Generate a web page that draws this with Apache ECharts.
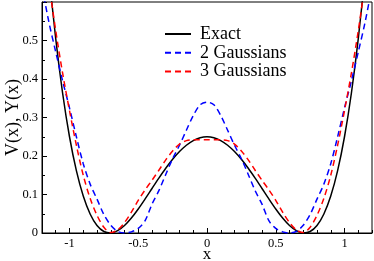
<!DOCTYPE html>
<html>
<head>
<meta charset="utf-8">
<script src="https://cdn.jsdelivr.net/npm/echarts@6/dist/echarts.min.js"></script>
<style>html,body{margin:0;padding:0;background:#fff}#c{width:374px;height:261px}</style>
</head>
<body>
<div id="c"></div>
<script>
const xValues = [-1.2,-1.15,-1.1,-1.05,-1.0,-0.95,-0.9,-0.85,-0.8,-0.75,-0.7,-0.65,-0.6,-0.55,-0.5,-0.45,-0.4,-0.35,-0.3,-0.25,-0.2,-0.15,-0.1,-0.05,0,0.05,0.1,0.15,0.2,0.25,0.3,0.35,0.4,0.45,0.5,0.55,0.6,0.65,0.7,0.75,0.8,0.85,0.9,0.95,1.0,1.05,1.1,1.15,1.2];
const exact = [0.8836,0.6765,0.5041,0.3630,0.25,0.1620,0.0961,0.0495,0.0196,0.0039,0.0001,0.0060,0.0196,0.0390,0.0625,0.0885,0.1156,0.1425,0.1681,0.1914,0.2116,0.2280,0.2401,0.2475,0.25,0.2475,0.2401,0.2280,0.2116,0.1914,0.1681,0.1425,0.1156,0.0885,0.0625,0.0390,0.0196,0.0060,0.0001,0.0039,0.0196,0.0495,0.0961,0.1620,0.25,0.3630,0.5041,0.6765,0.8836];
const gauss2 = [0.640,0.548,0.470,0.395,0.325,0.250,0.180,0.127,0.088,0.048,0.020,0.004,0.000,0.003,0.012,0.032,0.075,0.110,0.152,0.193,0.228,0.267,0.305,0.333,0.340,0.333,0.305,0.267,0.228,0.193,0.152,0.110,0.075,0.032,0.012,0.003,0.000,0.004,0.020,0.048,0.088,0.127,0.180,0.250,0.325,0.395,0.470,0.548,0.640];
const gauss3 = [0.780,0.650,0.525,0.415,0.318,0.228,0.150,0.090,0.046,0.015,0.001,0.008,0.027,0.054,0.085,0.112,0.137,0.163,0.190,0.213,0.231,0.240,0.242,0.242,0.242,0.242,0.242,0.240,0.231,0.213,0.190,0.163,0.137,0.112,0.085,0.054,0.027,0.008,0.001,0.015,0.046,0.090,0.150,0.228,0.318,0.415,0.525,0.650,0.780];
const seriesNames = ['Exact','2 Gaussians','3 Gaussians'];
const xTickLabels = [-1,-0.5,0,0.5,1];

const serif = 'Liberation Serif';
const chart = echarts.init(document.getElementById('c'), null, {renderer:'canvas'});
function pairs(ys){ return xValues.map((x,i)=>[x, ys[i]]); }
function lineSeries(name, ys, color, type){
  return {
    name, type:'line', data: pairs(ys), xAxisIndex:0, yAxisIndex:0,
    symbol:'none', showSymbol:false, smooth:0.3, clip:true,
    color, lineStyle:{color, width:1.5, type}
  };
}
chart.setOption({
  animation:false,
  backgroundColor:'#fff',
  grid:{left:42, right:2, top:2, bottom:28, containLabel:false, outerBoundsMode:'none',
    show:true, borderColor:'#000', borderWidth:1, backgroundColor:'transparent'},
  legend:{
    orient:'vertical', left:164, top:25, padding:0, itemWidth:26, itemHeight:14, itemGap:0.8,
    itemStyle:{opacity:0},
    textStyle:{fontFamily:serif, fontSize:18, color:'#000', lineHeight:18, padding:[0,0,0,4]},
    data:seriesNames
  },
  xAxis:[{
    type:'value', min:-1.2, max:1.2, interval:0.1, position:'bottom',
    name:'x', nameLocation:'middle', nameGap:13, nameMoveOverlap:false,
    nameTextStyle:{fontFamily:serif, fontSize:17, color:'#000'},
    axisLine:{show:true, onZero:false, lineStyle:{color:'#000', width:1}},
    axisTick:{show:true, inside:true, length:5, customValues:xTickLabels, lineStyle:{color:'#000'}},
    axisLabel:{show:true, customValues:xTickLabels, margin:4, fontFamily:serif, fontSize:12.5, color:'#000'},
    splitLine:{show:false}
  },{
    type:'value', min:-1.2, max:1.2, interval:0.1, position:'bottom', gridIndex:0,
    axisLine:{show:false, onZero:false},
    axisTick:{show:true, inside:true, length:3, lineStyle:{color:'#000'}},
    axisLabel:{show:false},
    splitLine:{show:false}
  }],
  yAxis:{
    type:'value', min:0, max:0.6, interval:0.1, position:'left',
    name:'V(x), Y(x)', nameLocation:'middle', nameGap:20, nameRotate:90, nameMoveOverlap:false,
    nameTextStyle:{fontFamily:serif, fontSize:18, color:'#000'},
    axisLine:{show:true, onZero:false, lineStyle:{color:'#000', width:1}},
    axisTick:{show:true, inside:true, length:5, lineStyle:{color:'#000'}},
    minorTick:{show:true, splitNumber:2, length:3, lineStyle:{color:'#000'}},
    axisLabel:{margin:4, fontFamily:serif, fontSize:12.5, color:'#000',
      formatter:function(v){ return v >= 0.59 ? '' : String(Math.round(v*10)/10); }},
    splitLine:{show:false}, minorSplitLine:{show:false}
  },
  series:[
    lineSeries(seriesNames[0], exact, '#000000', 'solid'),
    lineSeries(seriesNames[1], gauss2, '#0000ff', [6,4]),
    lineSeries(seriesNames[2], gauss3, '#ff0000', [6,4])
  ]
});
</script>
</body>
</html>
